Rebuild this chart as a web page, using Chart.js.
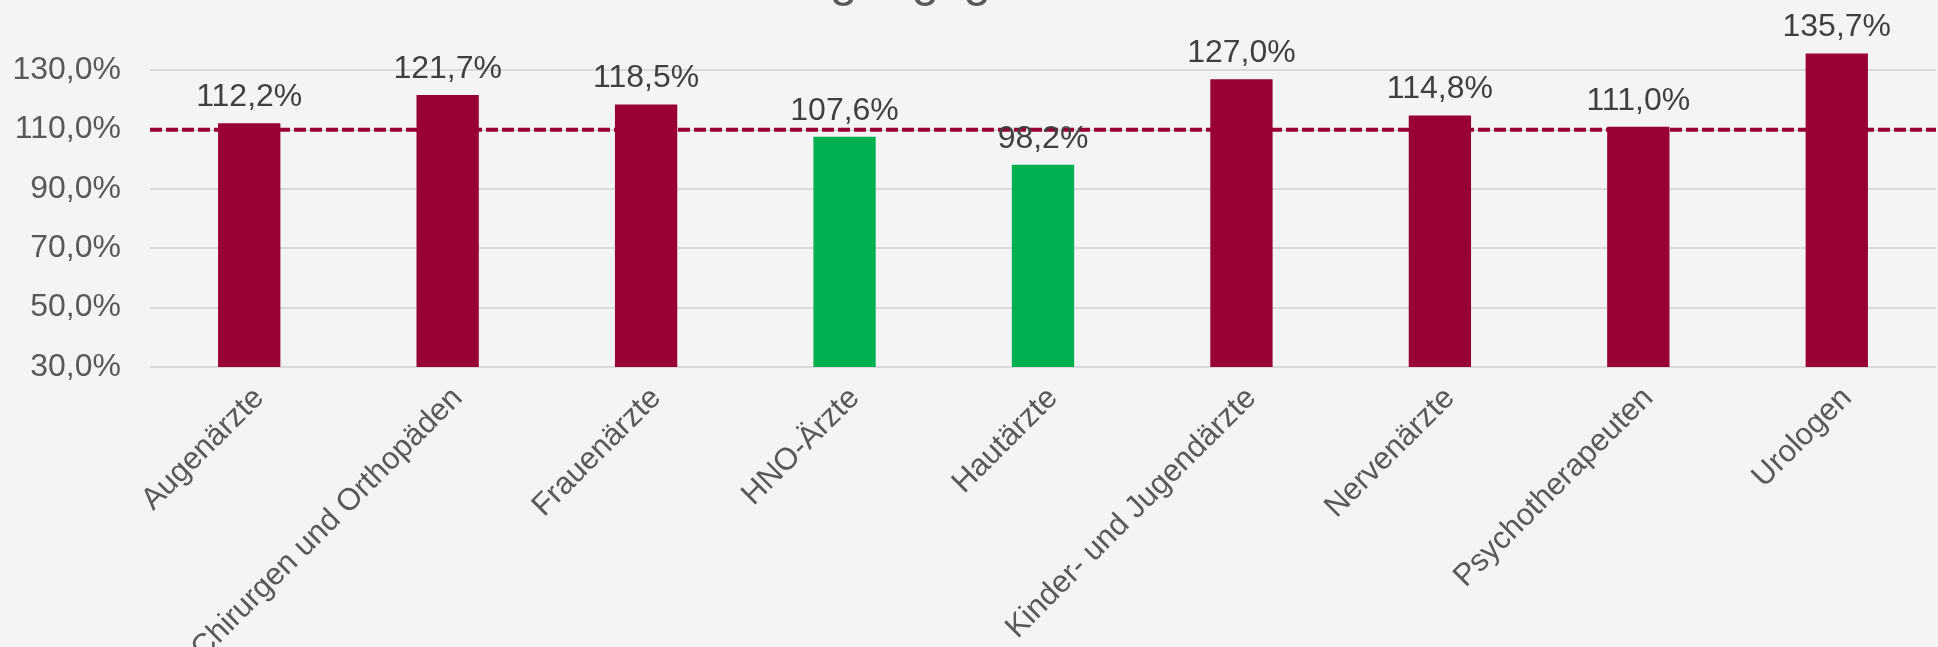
<!DOCTYPE html>
<html lang="de">
<head>
<meta charset="utf-8">
<title>Versorgungsgrad</title>
<script src="https://cdn.jsdelivr.net/npm/chart.js@4.4.1/dist/chart.umd.min.js"></script>
<style>
  html, body { margin: 0; padding: 0; background: #f4f4f4; }
  #wrap { position: relative; width: 1938px; height: 647px; }
</style>
</head>
<body>
<div id="wrap"><canvas id="chartVersorgung"></canvas></div>
<script>
// ============================================================
//  Versorgungsgrad je Arztgruppe — Säulen + Schwelle 110 %
// ============================================================

const TITEL = 'Versorgungsgrad in Prozent';
const ARZTGRUPPEN = [
    'Augenärzte', 'Chirurgen und Orthopäden', 'Frauenärzte', 'HNO-Ärzte', 'Hautärzte',
    'Kinder- und Jugendärzte', 'Nervenärzte', 'Psychotherapeuten', 'Urologen',
];
const VERSORGUNGSGRAD = [112.2, 121.7, 118.5, 107.6, 98.2, 127.0, 114.8, 111.0, 135.7];
const Y_TICKS = [30, 50, 70, 90, 110, 130];
const SCHWELLE = 110;

const ROT   = '#990033';
const GRUEN = '#00B050';
const FONT  = "'Liberation Sans', Arial, sans-serif";

function formatoProzent(valor) {
    return Number(valor).toFixed(1).replace('.', ',') + '%';
}

// ── Gestrichelte Linie bei 110 % (hinter den Säulen) ──
const schwelleLinie = {
    id: 'schwelleLinie',
    beforeDatasetsDraw(chart) {
        const { ctx, chartArea, scales } = chart;
        const y = scales.y.getPixelForValue(SCHWELLE);
        ctx.save();
        ctx.strokeStyle = ROT;
        ctx.lineWidth = 4;
        ctx.setLineDash([12, 4]);
        ctx.beginPath();
        ctx.moveTo(chartArea.left, y);
        ctx.lineTo(chartArea.right, y);
        ctx.stroke();
        ctx.restore();
    },
};

// ── Werte über den Säulen ──
const wertLabels = {
    id: 'wertLabels',
    afterDatasetsDraw(chart) {
        const { ctx } = chart;
        const meta = chart.getDatasetMeta(0);
        ctx.save();
        ctx.font = `32px ${FONT}`;
        ctx.fillStyle = '#404040';
        ctx.textAlign = 'center';
        ctx.textBaseline = 'alphabetic';
        meta.data.forEach((bar, i) => {
            ctx.fillText(formatoProzent(VERSORGUNGSGRAD[i]), bar.x, bar.y - 17);
        });
        ctx.restore();
    },
};

// ── Titel (oben angeschnitten) ──
const titelOben = {
    id: 'titelOben',
    afterDraw(chart) {
        const { ctx } = chart;
        ctx.save();
        ctx.font = `49px ${FONT}`;
        ctx.fillStyle = '#595959';
        ctx.textAlign = 'center';
        ctx.textBaseline = 'alphabetic';
        ctx.fillText(TITEL, chart.width / 2 + 23, -4);
        ctx.restore();
    },
};

const ctxVersorgung = document.getElementById('chartVersorgung').getContext('2d');
new Chart(ctxVersorgung, {
    type: 'bar',
    data: {
        labels: ARZTGRUPPEN,
        datasets: [{
            data: VERSORGUNGSGRAD,
            backgroundColor: VERSORGUNGSGRAD.map(v => (v > SCHWELLE ? ROT : GRUEN)),
            borderWidth: 0,
            categoryPercentage: 1,
            barPercentage: 0.314,
        }],
    },
    options: {
        responsive: true,
        maintainAspectRatio: false,
        animation: false,
        layout: { padding: { top: 11, right: 2, left: 0, bottom: 0 } },
        plugins: {
            legend: { display: false },
            tooltip: { enabled: false },
        },
        scales: {
            x: {
                grid: { display: false },
                border: { display: false },
                ticks: {
                    color: '#595959',
                    font: { family: FONT, size: 31 },
                    minRotation: 45,
                    maxRotation: 45,
                    autoSkip: false,
                    padding: 5,
                    labelOffset: 10,
                },
                afterFit(scale) {
                    scale.height = 280;
                    scale.paddingLeft = 0;
                    scale.paddingRight = 0;
                },
            },
            y: {
                min: 30,
                max: 150,
                ticks: {
                    stepSize: 20,
                    color: '#595959',
                    font: { family: FONT, size: 32 },
                    padding: 29,
                    callback: v => formatoProzent(v),
                },
                afterBuildTicks(scale) {
                    scale.ticks = Y_TICKS.map(v => ({ value: v }));
                },
                afterFit(scale) {
                    scale.width = 150;
                    scale.paddingTop = 0;
                    scale.paddingBottom = 0;
                },
                grid: { color: '#d9d9d9', lineWidth: 2, drawTicks: false },
                border: { display: false },
            },
        },
    },
    plugins: [schwelleLinie, wertLabels, titelOben],
});
</script>
</body>
</html>
